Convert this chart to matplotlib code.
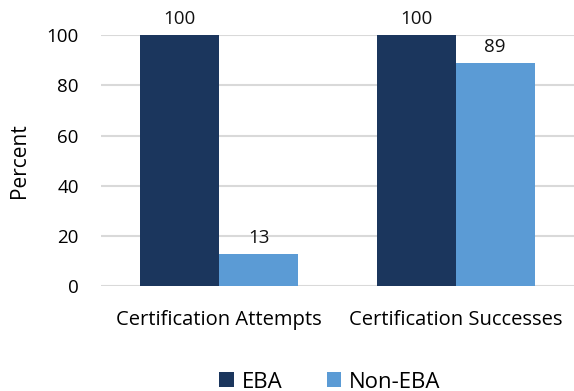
import numpy as np
import matplotlib.pyplot as plt

plt.rcParams['font.family'] = ['Open Sans', 'DejaVu Sans']

categories = ["Certification Attempts", "Certification Successes"]
eba = [100, 100]
non_eba = [13, 89]
series_names = ["EBA", "Non-EBA"]
colors = ["#1B365D", "#5B9BD5"]

fig = plt.figure(figsize=(5.74, 3.91), dpi=100)
ax = fig.add_axes([0.176, 0.268, 0.824, 0.642])

x = np.arange(len(categories))
w = 1 / 3
b1 = ax.bar(x - w / 2, eba, w, color=colors[0], label=series_names[0], zorder=3)
b2 = ax.bar(x + w / 2, non_eba, w, color=colors[1], label=series_names[1], zorder=3)

for bars in (b1, b2):
    for rect in bars:
        h = rect.get_height()
        ax.annotate(f"{h:g}", (rect.get_x() + rect.get_width() / 2, h),
                    xytext=(0, 5), textcoords="offset points",
                    ha="center", va="bottom", fontsize=13.5, color="#111111")

ax.set_xlim(-0.5, 1.5)
ax.set_ylim(0, 100)
ax.set_yticks(range(0, 101, 20))
ax.set_xticks(x)
ax.set_xticklabels(categories, fontsize=14.5)
ax.tick_params(axis="y", labelsize=13.5, length=0, pad=16)
ax.tick_params(axis="x", length=0, pad=17)
ax.yaxis.grid(True, color="#D9D9D9", linewidth=1.5, zorder=0)
for s in ax.spines.values():
    s.set_visible(False)
ax.set_ylabel("Percent", fontsize=15)
ax.yaxis.set_label_coords(-0.15, 0.5)

fig.legend(handles=[b1, b2], labels=series_names, loc="lower center",
           bbox_to_anchor=(0.575, -0.055), ncol=2, frameon=False, fontsize=16,
           handlelength=0.65, handleheight=0.65, handletextpad=0.35, columnspacing=2.0)

fig.savefig("out.png", dpi=100)
